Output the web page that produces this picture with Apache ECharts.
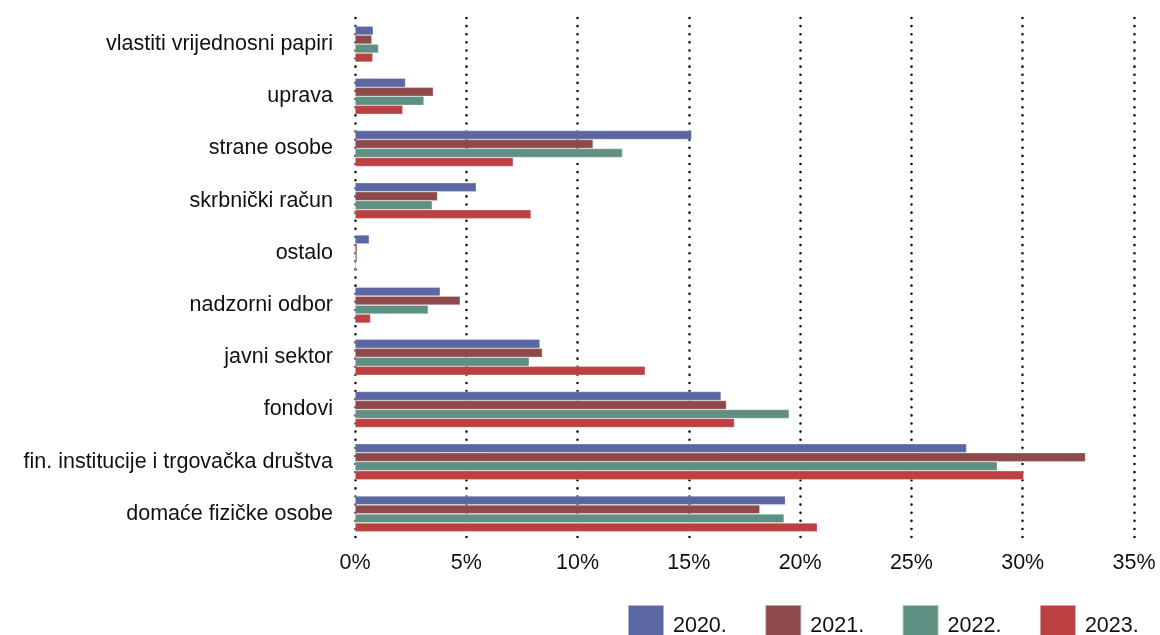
<!DOCTYPE html>
<html><head><meta charset="utf-8">
<script src="https://cdn.jsdelivr.net/npm/echarts@6/dist/echarts.min.js"></script>
<style>html,body{margin:0;padding:0;background:#fff}#c{width:1160px;height:635px}</style>
</head><body><div id="c"></div>
<script>
const categories = ['vlastiti vrijednosni papiri','uprava','strane osobe','skrbnički račun','ostalo','nadzorni odbor','javni sektor','fondovi','fin. institucije i trgovačka društva','domaće fizičke osobe'];
const years = ['2020.','2021.','2022.','2023.'];
const v2020 = [0.82, 2.27, 15.13, 5.45, 0.64, 3.83, 8.31, 16.45, 27.48, 19.34];
const v2021 = [0.76, 3.52, 10.70, 3.71, 0.10, 4.73, 8.42, 16.69, 32.82, 18.19];
const v2022 = [1.06, 3.10, 12.02, 3.47, 0.10, 3.29, 7.83, 19.51, 28.86, 19.28];
const v2023 = [0.80, 2.15, 7.11, 7.91, 0.05, 0.70, 13.04, 17.05, 30.05, 20.77];
const xTicks = [0,5,10,15,20,25,30,35];
const colors = ['#5b67a3','#8e4a4a','#5f9084','#bc4040'];
const seriesData = [v2020, v2021, v2022, v2023];
const font = '"Liberation Sans", Arial, sans-serif';
const chart = echarts.init(document.getElementById('c'));
chart.setOption({
  animation: false,
  color: colors,
  grid: {left: 355, right: 26, top: 18, bottom: 95},
  legend: {
    data: years, left: 627, top: 604, padding: 0, itemWidth: 36, itemHeight: 42, itemGap: 37.5,
    icon: 'rect', textStyle: {fontFamily: font, fontSize: 21.5, color: '#111', padding: [0,0,0,4]}
  },
  xAxis: {
    type: 'value', min: xTicks[0], max: xTicks[xTicks.length-1], interval: xTicks[1]-xTicks[0],
    axisLine: {show: false}, axisTick: {show: false},
    splitLine: {show: true, lineStyle: {color: '#111', width: 2.6, type: [0.01, 8.1], cap: 'round'}},
    axisLabel: {formatter: v => v + '%', fontFamily: font, fontSize: 21.5, color: '#111', margin: 12}
  },
  yAxis: {
    type: 'category', data: categories, inverse: true,
    axisLine: {show: false}, axisTick: {show: false},
    axisLabel: {fontFamily: font, fontSize: 21.5, color: '#111', margin: 22}
  },
  series: seriesData.map((d, i) => ({
    name: years[i], type: 'bar', data: d, barGap: '0%', barCategoryGap: '31%',
    itemStyle: {color: colors[i], borderColor: 'rgba(255,255,255,0.5)', borderWidth: 0.6}
  }))
});
</script></body></html>
